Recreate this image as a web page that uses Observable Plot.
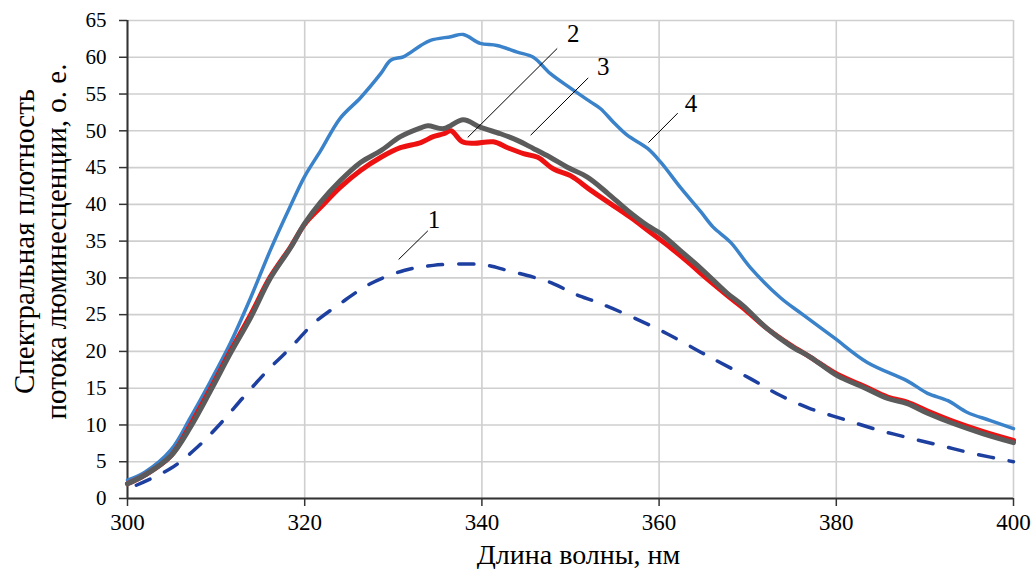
<!DOCTYPE html>
<html><head><meta charset="utf-8">
<script src="https://cdn.jsdelivr.net/npm/d3@7"></script>
<script src="https://cdn.jsdelivr.net/npm/@observablehq/plot@0.6"></script>
<style>body{margin:0;background:#fff} svg, svg text{font-family:'Liberation Serif','Times New Roman',serif !important;}</style>
</head><body><div id="chart"></div>
<script>
// Curve 1 (dashed)
const wl1 = [301,304.9,307.9,310.5,313.1,315.8,318.4,321,324,327.4,331.2,334.5,338.4,340.6,342.9,345.8,348.1,350.3,353.4,357.1,360.9,364.7,366.1,370.3,373.7,377.1,380.5,384.2,388,391.8,395.5,400];
const v1  = [1.8,4.1,7.0,10.2,13.8,17.4,20.5,23.8,26.5,29.2,31.0,31.7,31.9,31.7,31.0,30.1,29.2,27.9,26.5,24.6,22.4,19.9,19.0,16.3,14.0,12.2,10.9,9.5,8.3,7.2,6.1,5.0];
// Curve 2 (red)
const wl2 = [300,302,304.9,307.1,309.4,311.6,313.9,316.1,318.4,320,321.8,324,326.3,328.6,330.8,333.1,334.5,335.7,336.5,337.8,339.1,341.3,342.9,344.7,346.3,348.1,350,352.3,354.5,356.8,359,361.3,363.5,364.7,367.7,369.5,372.2,374.8,377.1,380.1,383.1,385.8,388,390.3,393.2,396.6,400];
const v2  = [2.0,3.2,5.8,10.0,15.0,20.0,25.0,30.1,34.2,37.3,39.6,42.3,44.6,46.4,47.7,48.4,49.2,49.6,50.0,48.5,48.3,48.5,47.7,46.9,46.4,44.8,43.9,41.9,40.1,38.2,36.2,34.1,31.9,30.6,27.6,25.9,23.1,20.9,19.2,16.9,15.3,13.8,13.1,11.9,10.5,9.1,7.9];
// Curve 3 (gray)
const wl3 = [300,302,304.9,307.1,309.4,311.6,313.9,316.1,318.4,320,321.8,324,326.3,328.6,330.8,333.1,333.9,335.7,337.9,339.8,342.1,344,345.8,347.7,349.7,351.9,354.2,356.4,358.7,360.2,362.4,364.7,367.7,369.5,372.2,374.8,377.1,380.1,383.1,385.8,388,390.3,393.2,396.6,400];
const v3  = [2.0,3.2,5.8,9.7,14.7,19.7,24.6,29.9,34.1,37.4,40.3,43.2,45.7,47.3,49.2,50.4,50.7,50.3,51.5,50.5,49.6,48.7,47.6,46.4,45.0,43.7,41.5,39.2,37.1,36.0,33.7,31.3,27.9,26.2,23.1,20.8,19.2,16.7,15.1,13.6,12.9,11.6,10.2,8.8,7.6];
// Curve 4 (blue)
const wl4 = [300,302,304.9,307.1,309.4,311.6,313.9,316.1,318.4,320,321.8,324,326.3,328.6,329.7,331.2,333.1,334.2,336.5,337.9,339.8,341.7,344,345.8,347.7,350,352.3,353.4,354.9,356.4,358.7,360.2,362.4,364.7,366.1,368.1,370.3,373.7,376,379.7,383.5,388,390.3,392.6,394.8,397.4,400];
const v4  = [2.5,3.6,6.6,11.0,16.0,21.1,27.3,33.7,39.8,43.8,47.3,51.7,54.5,57.8,59.6,60.1,61.6,62.3,62.8,63.1,61.9,61.6,60.7,60.0,57.8,55.8,53.9,53.0,51.1,49.4,47.6,45.7,42.3,39.0,36.9,34.8,31.4,27.3,25.2,21.9,18.5,16.0,14.3,13.3,11.7,10.6,9.5];

const xTicks = [300,320,340,360,380,400];
const yTicks = [0,5,10,15,20,25,30,35,40,45,50,55,60,65];

// Curve labels and leader lines (data space)
const labelText = ["1","2","3","4"];
const leadX1 = [330.6,338.4,345.5,358.8];
const leadY1 = [32.5,49.1,49.4,48.4];
const leadX2 = [333.9,348.5,352.0,362.1];
const leadY2 = [36.4,61.2,57.2,52.4];
const labelX = [334.6,350.3,353.7,363.6];
const labelY = [37.9,63.1,58.7,53.6];

const xTitle = "Длина волны, нм";
const yTitle = "Спектральная плотность\nпотока люминесценции, о. е.";

const rows = (xs, ys) => xs.map((x, i) => ({x, y: ys[i]}));
const labels = labelText.map((t, i) => ({t, x1: leadX1[i], y1: leadY1[i], x2: leadX2[i], y2: leadY2[i], lx: labelX[i], ly: labelY[i]}));

const serif = "'Liberation Serif', 'Times New Roman', serif";
const chart = Plot.plot({
  width: 1032, height: 569,
  marginLeft: 127, marginRight: 19, marginTop: 20, marginBottom: 71,
  style: {fontFamily: serif, fontSize: "21px", background: "#fff", color: "#000"},
  x: {domain: [300, 400], label: null},
  y: {domain: [0, 65], label: null},
  marks: [
    Plot.gridY(yTicks, {stroke: "#cfcfcf", strokeOpacity: 1, strokeWidth: 1.6}),
    Plot.gridX(xTicks, {stroke: "#cfcfcf", strokeOpacity: 1, strokeWidth: 1.6}),
    Plot.axisX(xTicks, {tickSize: 8, tickPadding: 7, stroke: "#333", strokeWidth: 1.5, fontSize: 23, fontFamily: serif}),
    Plot.axisY(yTicks, {tickSize: 8, tickPadding: 13, stroke: "#333", strokeWidth: 1.5, fontSize: 21, fontFamily: serif}),
    Plot.ruleY([0], {stroke: "#333", strokeWidth: 2}),
    Plot.ruleX([300], {stroke: "#333", strokeWidth: 2}),
    Plot.line(rows(wl1, v1), {x: "x", y: "y", stroke: "#1d3fa0", strokeWidth: 3.5, strokeDasharray: "15,16", curve: "catmull-rom"}),
    Plot.line(rows(wl4, v4), {x: "x", y: "y", stroke: "#3a82c9", strokeWidth: 3.5, curve: "catmull-rom"}),
    Plot.line(rows(wl2, v2), {x: "x", y: "y", stroke: "#ee1111", strokeWidth: 5, curve: "catmull-rom"}),
    Plot.line(rows(wl3, v3), {x: "x", y: "y", stroke: "#5b5b5b", strokeWidth: 5, curve: "catmull-rom"}),
    Plot.link(labels, {x1: "x1", y1: "y1", x2: "x2", y2: "y2", stroke: "#000", strokeWidth: 1}),
    Plot.text(labels, {x: "lx", y: "ly", text: "t", fontSize: 25, fontFamily: serif, fill: "#000"}),
    Plot.text([xTitle], {frameAnchor: "bottom", lineAnchor: "middle", dx: 8, dy: 57, fontSize: 28, fontFamily: serif, fill: "#000"}),
    Plot.text([yTitle], {frameAnchor: "left", textAnchor: "middle", lineAnchor: "middle", dx: -88, dy: -18, rotate: -90, fontSize: 29, lineHeight: 1.1, fontFamily: serif, fill: "#000"})
  ]
});
document.getElementById("chart").appendChild(chart);
</script>
</body></html>
